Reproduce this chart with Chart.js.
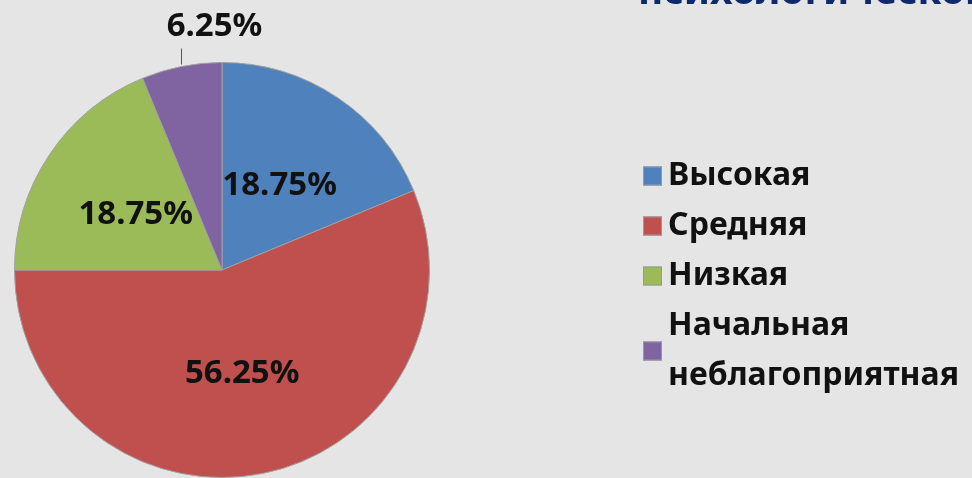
<!DOCTYPE html>
<html>
<head>
<meta charset="utf-8">
<script src="https://cdn.jsdelivr.net/npm/chart.js@4"></script>
<style>
  html, body { margin: 0; padding: 0; background: #e5e5e5; overflow: hidden; }
  #wrap { position: relative; width: 972px; height: 478px; }
  #title {
    position: absolute; left: 638px; top: -38px; white-space: nowrap;
    font: bold 39px "Noto Sans", sans-serif; color: #0e2a6c;
  }
</style>
</head>
<body>
<div id="wrap">
  <canvas id="myChart" width="972" height="478"></canvas>
  <div id="title"></div>
</div>
<script>
// Chart data
const titleText = 'психологической';
const labels = ['Высокая', 'Средняя', 'Низкая', ['Начальная', 'неблагоприятная']];
const values = [18.75, 56.25, 18.75, 6.25];
const colors = ['#4f81bd', '#c0504d', '#9bbb59', '#8064a2'];

document.getElementById('title').textContent = titleText;

// percent labels on the slices, small ones go outside with a short line
const sliceLabels = {
  id: 'sliceLabels',
  afterDatasetsDraw(chart) {
    const ctx = chart.ctx;
    const arcs = chart.getDatasetMeta(0).data;
    ctx.save();
    ctx.font = 'bold 33px "Noto Sans", sans-serif';
    ctx.fillStyle = '#111';
    ctx.textAlign = 'center';
    ctx.textBaseline = 'middle';
    arcs.forEach((arc, i) => {
      let text = values[i].toFixed(2) + '%';
      if (values[i] >= 10) {
        let p = arc.tooltipPosition();
        ctx.fillText(text, p.x, p.y + 2);
      } else {
        let mid = (arc.startAngle + arc.endAngle) / 2;
        let x = arc.x + Math.cos(mid) * arc.outerRadius;
        let y = arc.y + Math.sin(mid) * arc.outerRadius;
        ctx.strokeStyle = '#555';
        ctx.lineWidth = 1;
        ctx.beginPath();
        ctx.moveTo(x, y - 2);
        ctx.lineTo(x, y - 18);
        ctx.stroke();
        ctx.fillText(text, x + 33, y - 40);
      }
    });
    ctx.restore();
  }
};

// legend on the right, with two-line entries
const sideLegend = {
  id: 'sideLegend',
  afterDraw(chart) {
    const ctx = chart.ctx;
    ctx.save();
    ctx.font = 'bold 32px "Noto Sans", sans-serif';
    ctx.textBaseline = 'middle';
    let y = 176;
    chart.data.labels.forEach((label, i) => {
      let lines = Array.isArray(label) ? label : [label];
      let boxY = y + (lines.length - 1) * 25;
      ctx.fillStyle = colors[i];
      ctx.fillRect(643, boxY - 9.5, 19, 19);
      ctx.strokeStyle = '#999';
      ctx.lineWidth = 1;
      ctx.strokeRect(643.5, boxY - 9, 18, 18);
      ctx.fillStyle = '#111';
      lines.forEach(line => {
        ctx.fillText(line, 668, y);
        y += 50;
      });
    });
    ctx.restore();
  }
};

const myChart = document.getElementById('myChart');

let pieChart = new Chart(myChart, {
  type: 'pie',
  data: {
    labels: labels,
    datasets: [{
      data: values,
      backgroundColor: colors,
      borderColor: '#a0a0a0',
      borderWidth: 1
    }]
  },
  options: {
    responsive: false,
    animation: false,
    layout: {
      padding: { left: 14, top: 62, right: 542, bottom: 0 }
    },
    plugins: {
      legend: { display: false },
      tooltip: { enabled: false }
    }
  },
  plugins: [sliceLabels, sideLegend]
});
</script>
</body>
</html>
